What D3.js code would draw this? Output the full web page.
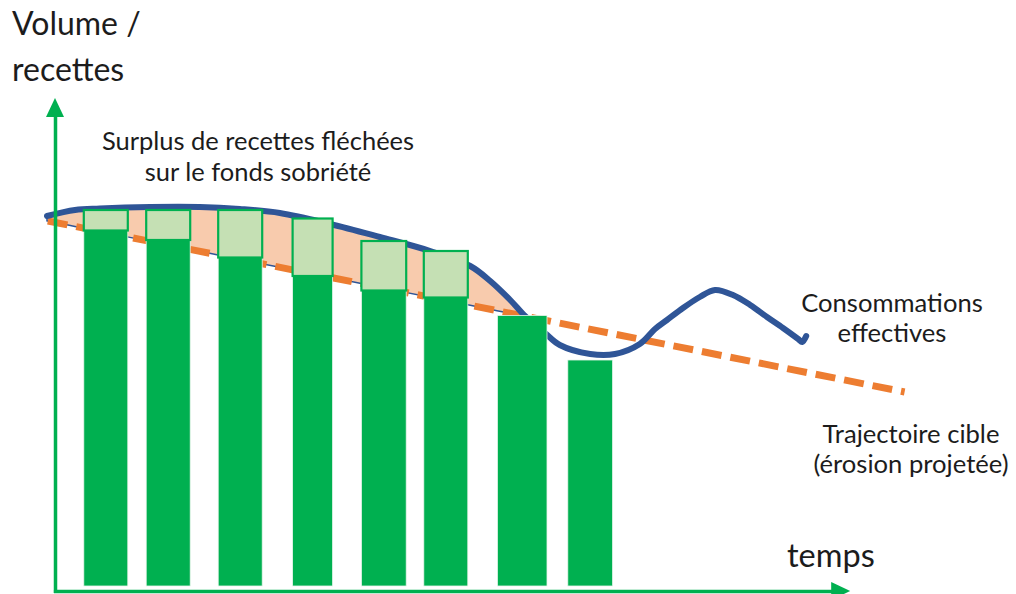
<!DOCTYPE html>
<html>
<head>
<meta charset="utf-8">
<script src="https://cdn.jsdelivr.net/npm/d3@7/dist/d3.min.js"></script>
<style>
  html, body { margin: 0; padding: 0; background: #ffffff; }
  svg { display: block; }
  text { font-family: Lato, "Open Sans", sans-serif; fill: #1c1c1c; }
</style>
</head>
<body>
<svg id="chart" width="1016" height="594"></svg>
<script>
// Periods shown as bars (time units along the horizontal axis)
const periods    = ["P1", "P2", "P3", "P4", "P5", "P6", "P7", "P8"];
const barStart   = [3.6, 11.4, 20.4, 29.7, 38.3, 46.1, 55.3, 64.1];
const barEnd     = [9.1, 16.9, 25.9, 34.7, 43.9, 51.6, 61.5, 69.7];
// Revenue expected from the target trajectory, and revenue actually collected
const targetRevenue = [71.1, 69.2, 65.7, 62.0, 59.1, 57.7, 54.1, 45.2];
const actualRevenue = [75.2, 75.2, 75.2, 73.5, 69.0, 67.0, 54.1, 45.2];

// Target trajectory (projected erosion), a straight line
const trajectoryT = [-0.9, 106.2];
const trajectoryV = [73.0, 38.8];

// Actual consumption curve
const consumptionT = [-1.0, 2.5, 5.6, 11.9, 18.1, 23.1, 28.1, 34.4, 40.6, 46.9, 51.9, 54.4, 56.9, 58.75,
                      61.25, 63.1, 66.9, 70.0, 73.1, 75.0, 76.5, 78.5, 80.6, 82.5, 84.75, 86.9, 89.0, 91.0, 92.9, 93.4, 93.9];
const consumptionV = [74.0, 75.2, 75.5, 75.8, 75.8, 75.4, 74.6, 72.4, 69.8, 67.0, 64.0, 61.0, 57.2, 54.0,
                      50.6, 48.2, 46.4, 46.4, 48.4, 51.4, 53.2, 55.6, 57.8, 59.2, 58.2, 56.2, 53.8, 51.6, 49.4, 48.8, 50.0];
// The surplus zone runs until consumption meets the trajectory
const surplusEndIndex = 13;

// Axis extents
const axisOrigin = [0, -1];
const xAxisEnd = 99.4;
const yAxisEnd = 97.6;

const colors = {
  axis: "#00B050",
  bar: "#00B050",
  surplus: "#C5E0B4",
  zone: "#F8CBAD",
  curve: "#2F5597",
  target: "#ED7D31"
};

const svg = d3.select("#chart");
const x = d3.scaleLinear().domain([0, 100]).range([55, 855]);
const y = d3.scaleLinear().domain([0, 100]).range([586, 86]);

const traj = d3.scaleLinear().domain(trajectoryT).range(trajectoryV);
const consumption = consumptionT.map((t, i) => ({ t, v: consumptionV[i] }));
const smooth = d3.curveCatmullRom.alpha(0.5);

// Surplus zone between consumption and trajectory
const zoneArea = d3.area()
  .x(d => x(d.t))
  .y0(d => y(traj(d.t)))
  .y1(d => y(d.v))
  .curve(smooth);
svg.append("path")
  .datum(consumption.slice(0, surplusEndIndex + 1))
  .attr("d", zoneArea)
  .attr("fill", colors.zone)
  .attr("stroke", colors.curve)
  .attr("stroke-width", 1.5);

// Target trajectory
svg.append("line")
  .attr("x1", x(trajectoryT[0])).attr("y1", y(trajectoryV[0]))
  .attr("x2", x(trajectoryT[1])).attr("y2", y(trajectoryV[1]))
  .attr("stroke", colors.target)
  .attr("stroke-width", 7)
  .attr("stroke-dasharray", "20,9");

// Consumption curve
svg.append("path")
  .datum(consumption)
  .attr("d", d3.line().x(d => x(d.t)).y(d => y(d.v)).curve(smooth))
  .attr("fill", "none")
  .attr("stroke", colors.curve)
  .attr("stroke-width", 6)
  .attr("stroke-linecap", "round")
  .attr("stroke-linejoin", "round");

// Bars: revenue from the trajectory
const bars = periods.map((p, i) => ({
  p, t0: barStart[i], t1: barEnd[i], base: targetRevenue[i], total: actualRevenue[i]
}));
svg.append("g").selectAll("rect")
  .data(bars).join("rect")
  .attr("x", d => x(d.t0))
  .attr("width", d => x(d.t1) - x(d.t0))
  .attr("y", d => y(d.base))
  .attr("height", d => y(0) - y(d.base))
  .attr("fill", colors.bar)
  .attr("stroke", "#e8f5ec")
  .attr("stroke-width", 0.8);

// Surplus revenue on top of each bar
svg.append("g").selectAll("rect")
  .data(bars.filter(d => d.total > d.base)).join("rect")
  .attr("x", d => x(d.t0))
  .attr("width", d => x(d.t1) - x(d.t0))
  .attr("y", d => y(d.total))
  .attr("height", d => y(d.base) - y(d.total))
  .attr("fill", colors.surplus)
  .attr("stroke", colors.axis)
  .attr("stroke-width", 2.2);

// Axes drawn as arrows
const headLen = 19, headHalf = 9;
const xAxisScale = d3.scaleLinear().domain([axisOrigin[0] - 0.2, xAxisEnd])
  .range([x(axisOrigin[0] - 0.2), x(xAxisEnd) - headLen + 2]);
const yAxisScale = d3.scaleLinear().domain([axisOrigin[1] - 0.3, yAxisEnd])
  .range([y(axisOrigin[1] - 0.3), y(yAxisEnd) + headLen - 2]);

const gx = svg.append("g")
  .attr("transform", `translate(0,${y(axisOrigin[1])})`)
  .call(d3.axisBottom(xAxisScale).tickValues([]).tickSizeOuter(0));
const gy = svg.append("g")
  .attr("transform", `translate(${x(axisOrigin[0])},0)`)
  .call(d3.axisLeft(yAxisScale).tickValues([]).tickSizeOuter(0));
[gx, gy].forEach(g => g.select(".domain")
  .attr("stroke", colors.axis).attr("stroke-width", 3.5));

const xTip = [x(xAxisEnd), y(axisOrigin[1])];
svg.append("polygon")
  .attr("points", [[xTip[0], xTip[1]], [xTip[0] - headLen, xTip[1] - headHalf], [xTip[0] - headLen, xTip[1] + headHalf]].join(" "))
  .attr("fill", colors.axis);
const yTip = [x(axisOrigin[0]), y(yAxisEnd)];
svg.append("polygon")
  .attr("points", [[yTip[0], yTip[1]], [yTip[0] - headHalf, yTip[1] + headLen], [yTip[0] + headHalf, yTip[1] + headLen]].join(" "))
  .attr("fill", colors.axis);

// Labels
function label(lines, px, py, size, anchor, lineGap) {
  const t = svg.append("text")
    .attr("x", px).attr("y", py)
    .attr("font-size", size)
    .attr("text-anchor", anchor);
  lines.forEach((s, i) => t.append("tspan").attr("x", px).attr("dy", i === 0 ? 0 : lineGap).text(s));
}
label(["Volume /", "recettes"], 12, 35, 32, "start", 46);
label(["Surplus de recettes fléchées", "sur le fonds sobriété"], 258, 150, 25.5, "middle", 31);
label(["Consommations", "effectives"], 892, 312, 25.6, "middle", 30);
label(["Trajectoire cible", "(érosion projetée)"], 911, 443, 25.6, "middle", 30);
label(["temps"], 787, 567, 32.5, "start", 0);
</script>
</body>
</html>
